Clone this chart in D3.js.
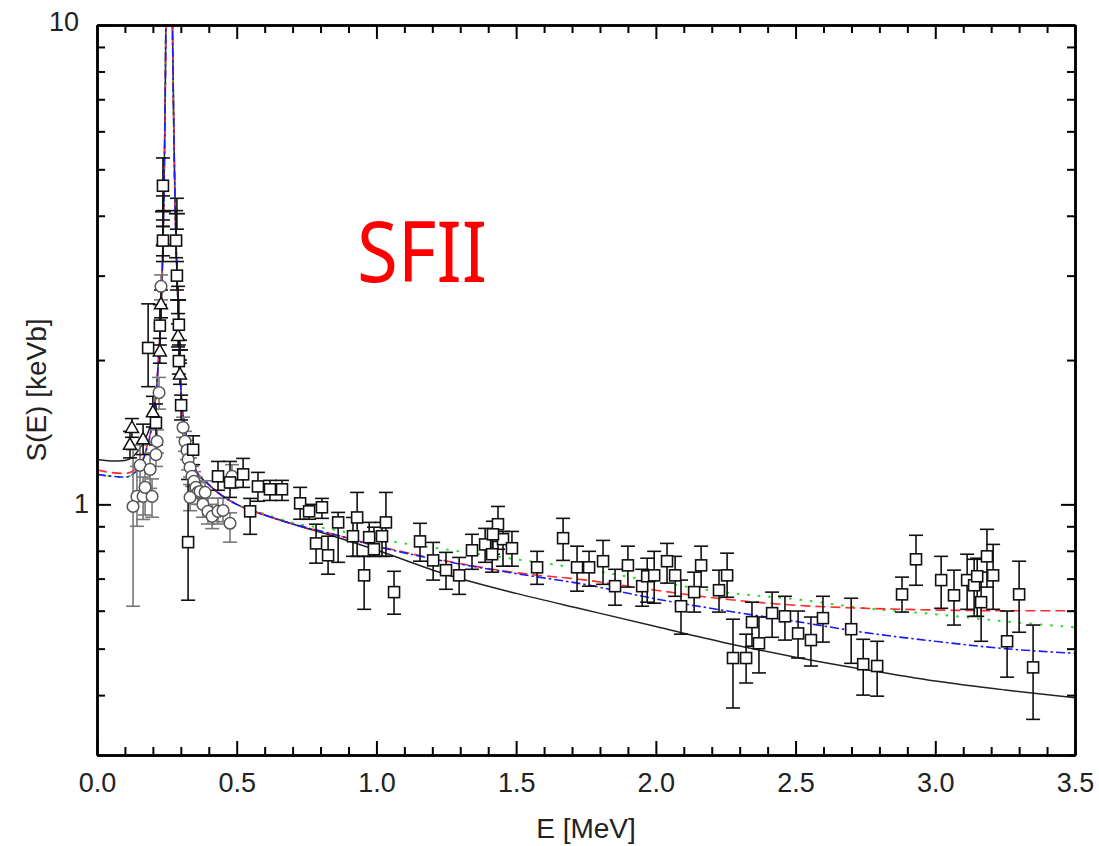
<!DOCTYPE html>
<html>
<head>
<meta charset="utf-8">
<script src="https://cdn.jsdelivr.net/npm/d3@7"></script>
<style>
  body { margin: 0; background: #fff; }
  text { font-family: "Liberation Sans", Arial, sans-serif; }
</style>
</head>
<body>
<svg id="chart" width="1099" height="846"></svg>
<script>
/** axis ticks **/
var xMajor = [0, 0.5, 1.0, 1.5, 2.0, 2.5, 3.0, 3.5];
var xMinor = [0.1, 0.2, 0.3, 0.4, 0.6, 0.7, 0.8, 0.9, 1.1, 1.2, 1.3, 1.4, 1.6, 1.7, 1.8, 1.9,
              2.1, 2.2, 2.3, 2.4, 2.6, 2.7, 2.8, 2.9, 3.1, 3.2, 3.3, 3.4];
var yMajor = [1, 10];
var yMinor = [0.3, 0.4, 0.5, 0.6, 0.7, 0.8, 0.9, 2, 3, 4, 5, 6, 7, 8, 9];

/** model curves: energy grid and S(E) for each model **/
var curveE = [0, 0.05, 0.1, 0.15, 0.18, 0.2, 0.21, 0.22, 0.23, 0.235, 0.24, 0.245, 0.25, 0.257,
              0.265, 0.27, 0.275, 0.28, 0.285, 0.29, 0.295, 0.3, 0.31, 0.32, 0.335, 0.35, 0.4,
              0.45, 0.5, 0.6, 0.7, 0.85, 1.0, 1.25, 1.5, 1.75, 2.0, 2.25, 2.5, 2.75, 3.0, 3.25, 3.5];
var curveBlack = [1.24, 1.232, 1.235, 1.30, 1.40, 1.53, 1.68, 2.0, 2.6, 3.3, 4.6, 8, 20, 60,
                  20, 10, 6, 4.1, 3.2, 2.6, 2.1, 1.75, 1.5, 1.38, 1.28, 1.19, 1.10,
                  1.04, 1.0, 0.95, 0.91, 0.857, 0.803, 0.714, 0.652, 0.602, 0.556, 0.514, 0.48, 0.452, 0.428, 0.41, 0.395];
var curveRed   = [1.18, 1.165, 1.16, 1.20, 1.33, 1.50, 1.67, 2.0, 2.6, 3.3, 4.6, 8, 20, 60,
                  20, 10, 6, 4.1, 3.2, 2.6, 2.1, 1.75, 1.5, 1.38, 1.28, 1.19, 1.10,
                  1.04, 1.0, 0.95, 0.91, 0.865, 0.82, 0.762, 0.72, 0.695, 0.662, 0.634, 0.616, 0.607, 0.602, 0.60, 0.60];
var curveGreen = [1.155, 1.145, 1.14, 1.19, 1.32, 1.50, 1.67, 2.0, 2.6, 3.3, 4.6, 8, 20, 60,
                  20, 10, 6, 4.1, 3.2, 2.6, 2.1, 1.75, 1.5, 1.38, 1.28, 1.19, 1.10,
                  1.04, 1.0, 0.955, 0.915, 0.885, 0.848, 0.805, 0.768, 0.732, 0.69, 0.655, 0.634, 0.607, 0.59, 0.57, 0.554];
var curveBlue  = [1.155, 1.145, 1.14, 1.19, 1.32, 1.50, 1.67, 2.0, 2.6, 3.3, 4.6, 8, 20, 60,
                  20, 10, 6, 4.1, 3.2, 2.6, 2.1, 1.75, 1.5, 1.38, 1.28, 1.19, 1.10,
                  1.04, 1.0, 0.95, 0.91, 0.865, 0.818, 0.76, 0.717, 0.68, 0.635, 0.60, 0.57, 0.54, 0.518, 0.50, 0.489];

/** data sets: [E, S, S low, S high] **/
var squareData = [
  [0.236, 4.62, 4.10, 5.28], [0.236, 3.55, 3.21, 3.92], [0.283, 3.55, 3.27, 4.10], [0.286, 3.00, 2.80, 3.21],
  [0.225, 2.36, 2.15, 2.61], [0.183, 2.12, 1.76, 2.62], [0.293, 2.37, 2.15, 2.67], [0.293, 1.99, 1.87, 2.10],
  [0.301, 1.61, 1.50, 1.69], [0.211, 1.48, 1.33, 1.62], [0.344, 1.30, 1.21, 1.39], [0.326, 0.834, 0.631, 1.127],
  [0.433, 1.144, 1.07, 1.229], [0.476, 1.111, 1.034, 1.229], [0.523, 1.155, 1.085, 1.247], [0.576, 1.090, 1.015, 1.166],
  [0.619, 1.075, 1.019, 1.122], [0.662, 1.075, 1.019, 1.122], [0.548, 0.967, 0.866, 1.029], [0.727, 1.005, 0.931, 1.085],
  [0.759, 0.967, 0.931, 1.0], [0.805, 0.986, 0.935, 1.029], [0.784, 0.829, 0.754, 0.909], [0.827, 0.783, 0.715, 0.858],
  [0.863, 0.917, 0.757, 0.962], [0.916, 0.858, 0.779, 0.939], [0.931, 0.939, 0.779, 1.059], [0.974, 0.854, 0.779, 0.917],
  [0.991, 0.806, 0.779, 0.896], [1.020, 0.858, 0.779, 0.917], [1.034, 0.917, 0.779, 1.059], [0.956, 0.711, 0.604, 0.779],
  [1.063, 0.656, 0.590, 0.725], [1.156, 0.837, 0.761, 0.913], [1.203, 0.764, 0.695, 0.833], [1.249, 0.729, 0.665, 0.794],
  [1.296, 0.711, 0.649, 0.775], [1.342, 0.802, 0.732, 0.866], [1.389, 0.825, 0.757, 0.891], [1.414, 0.787, 0.722, 0.837],
  [1.435, 0.909, 0.806, 0.99], [1.453, 0.846, 0.743, 0.878], [1.485, 0.810, 0.743, 0.878], [1.417, 0.866, 0.787, 0.922],
  [1.575, 0.739, 0.681, 0.798], [1.668, 0.850, 0.764, 0.935], [1.718, 0.739, 0.659, 0.818], [1.761, 0.739, 0.675, 0.798],
  [1.811, 0.761, 0.681, 0.841], [1.854, 0.675, 0.616, 0.732], [1.900, 0.746, 0.672, 0.818], [1.951, 0.675, 0.613, 0.732],
  [1.969, 0.708, 0.625, 0.772], [1.994, 0.711, 0.622, 0.798], [2.040, 0.761, 0.685, 0.829], [2.069, 0.711, 0.643, 0.779],
  [2.090, 0.613, 0.536, 0.695], [2.137, 0.656, 0.596, 0.722], [2.162, 0.746, 0.672, 0.818], [2.226, 0.662, 0.596, 0.729],
  [2.255, 0.711, 0.640, 0.791], [2.276, 0.478, 0.376, 0.576], [2.323, 0.478, 0.424, 0.536], [2.344, 0.568, 0.506, 0.625],
  [2.369, 0.513, 0.445, 0.582], [2.416, 0.593, 0.528, 0.656], [2.462, 0.584, 0.521, 0.643], [2.509, 0.538, 0.478, 0.599],
  [2.555, 0.521, 0.460, 0.582], [2.598, 0.579, 0.516, 0.643], [2.699, 0.549, 0.466, 0.637], [2.742, 0.464, 0.400, 0.523],
  [2.792, 0.460, 0.398, 0.518], [2.881, 0.649, 0.596, 0.705], [2.931, 0.768, 0.678, 0.862], [3.021, 0.695, 0.607, 0.779],
  [3.067, 0.646, 0.560, 0.729], [3.114, 0.695, 0.604, 0.787], [3.139, 0.678, 0.584, 0.768], [3.150, 0.708, 0.584, 0.772],
  [3.164, 0.625, 0.518, 0.722], [3.185, 0.779, 0.672, 0.887], [3.207, 0.711, 0.604, 0.825], [3.257, 0.518, 0.436, 0.599],
  [3.300, 0.649, 0.541, 0.761], [3.350, 0.457, 0.356, 0.560]
];
var circleData = [
  [0.229, 2.85, 2.67, 3.01], [0.222, 1.71, 1.58, 1.84], [0.215, 1.353, 1.28, 1.43], [0.211, 1.27, 1.20, 1.35],
  [0.308, 1.447, 1.38, 1.52], [0.315, 1.353, 1.29, 1.42], [0.322, 1.296, 1.24, 1.36], [0.326, 1.241, 1.18, 1.30],
  [0.333, 1.194, 1.14, 1.25], [0.340, 1.144, 1.09, 1.20], [0.347, 1.117, 1.06, 1.17], [0.354, 1.085, 1.03, 1.14],
  [0.361, 1.059, 1.0, 1.11], [0.143, 1.039, 0.90, 1.20], [0.129, 0.990, 0.613, 1.30], [0.165, 1.039, 0.93, 1.14],
  [0.197, 1.039, 0.94, 1.13], [0.333, 1.034, 0.97, 1.10], [0.369, 1.064, 1.0, 1.12], [0.387, 1.059, 0.99, 1.12],
  [0.379, 1.0, 0.94, 1.06], [0.397, 0.967, 0.91, 1.03], [0.412, 0.944, 0.89, 1.00], [0.433, 0.967, 0.91, 1.03],
  [0.451, 0.971, 0.92, 1.03], [0.476, 0.913, 0.834, 0.96], [0.483, 1.144, 1.08, 1.21], [0.154, 1.206, 1.05, 1.33],
  [0.190, 1.183, 1.08, 1.28], [0.172, 1.085, 0.95, 1.20]
];
var triangleData = [
  [0.125, 1.447, 1.38, 1.51], [0.118, 1.334, 1.25, 1.42], [0.225, 2.09, 1.97, 2.22], [0.290, 2.25, 2.13, 2.38],
  [0.297, 1.87, 1.78, 1.97], [0.236, 3.55, 3.30, 3.80], [0.229, 2.62, 2.45, 2.80], [0.200, 1.56, 1.45, 1.68],
  [0.165, 1.37, 1.27, 1.47]
];
var crossData = [
  [0.236, 4.08, 3.80, 4.40], [0.286, 4.04, 3.75, 4.35], [0.290, 2.67, 2.50, 2.85], [0.297, 2.10, 2.00, 2.20]
];

/** layout **/
var svg = d3.select("#chart"),
    plotLeft = 97, plotRight = 1075, plotTop = 25, plotBottom = 755,
    capW = 7;

var x = d3.scaleLinear().domain([0, 3.5]).range([plotLeft, plotRight]);
var y = d3.scaleLog().domain([0.3, 10]).range([plotBottom, plotTop]);

svg.append("defs").append("clipPath").attr("id", "plotClip")
  .append("rect").attr("x", plotLeft).attr("y", plotTop)
  .attr("width", plotRight - plotLeft).attr("height", plotBottom - plotTop);

var plot = svg.append("g").attr("clip-path", "url(#plotClip)");

/** model curves **/
var models = [
  {s: curveBlack, color: "#222", dash: null, w: 1.5},
  {s: curveGreen, color: "#1fd81f", dash: "2.5,8", w: 1.9},
  {s: curveRed,   color: "#ff2a2a", dash: "10,5", w: 1.6},
  {s: curveBlue,  color: "#1a1aff", dash: "9,3,2.5,3", w: 1.6}
];
var line = d3.line()
  .x(function(d) { return x(d[0]); })
  .y(function(d) { return y(d[1]); })
  .curve(d3.curveMonotoneX);

models.forEach(function(m) {
  var pts = curveE.map(function(e, i) { return [e, m.s[i]]; });
  plot.append("path")
    .datum(pts)
    .attr("d", line)
    .attr("fill", "none")
    .attr("stroke", m.color)
    .attr("stroke-width", m.w)
    .attr("stroke-dasharray", m.dash);
});

/** error bars with caps **/
function errorBars(data, color, cls) {
  var g = plot.append("g").attr("class", cls)
    .attr("stroke", color).attr("stroke-width", 1.6).attr("fill", "none");
  g.selectAll(".v").data(data).enter().append("line")
    .attr("x1", function(d) { return x(d[0]); })
    .attr("x2", function(d) { return x(d[0]); })
    .attr("y1", function(d) { return y(d[2]); })
    .attr("y2", function(d) { return y(d[3]); });
  [2, 3].forEach(function(k) {
    g.selectAll(".c" + k).data(data).enter().append("line")
      .attr("x1", function(d) { return x(d[0]) - capW; })
      .attr("x2", function(d) { return x(d[0]) + capW; })
      .attr("y1", function(d) { return y(d[k]); })
      .attr("y2", function(d) { return y(d[k]); });
  });
}

errorBars(circleData, "#777", "circErr");
errorBars(triangleData, "#111", "triErr");
errorBars(crossData, "#111", "crossErr");
errorBars(squareData, "#111", "sqErr");

// circles (grey)
plot.append("g").selectAll("circle").data(circleData).enter().append("circle")
  .attr("cx", function(d) { return x(d[0]); })
  .attr("cy", function(d) { return y(d[1]); })
  .attr("r", 5.8)
  .attr("fill", "#fff").attr("stroke", "#555").attr("stroke-width", 1.5);

// triangles
plot.append("g").selectAll("path").data(triangleData).enter().append("path")
  .attr("d", function(d) {
    var cx = x(d[0]), cy = y(d[1]);
    return "M" + cx + "," + (cy - 6.5) + "L" + (cx + 6.5) + "," + (cy + 5) + "L" + (cx - 6.5) + "," + (cy + 5) + "Z";
  })
  .attr("fill", "#fff").attr("stroke", "#111").attr("stroke-width", 1.5);

// crosses
plot.append("g").selectAll("line").data(crossData).enter().append("line")
  .attr("x1", function(d) { return x(d[0]) - 8; })
  .attr("x2", function(d) { return x(d[0]) + 8; })
  .attr("y1", function(d) { return y(d[1]); })
  .attr("y2", function(d) { return y(d[1]); })
  .attr("stroke", "#111").attr("stroke-width", 1.8);

// squares
plot.append("g").selectAll("rect").data(squareData).enter().append("rect")
  .attr("x", function(d) { return x(d[0]) - 5.5; })
  .attr("y", function(d) { return y(d[1]) - 5.5; })
  .attr("width", 11).attr("height", 11)
  .attr("fill", "#fff").attr("stroke", "#111").attr("stroke-width", 1.6);

/** axes, ticks pointing inward **/
function styleAxis(g) {
  g.select(".domain").attr("stroke", "#000").attr("stroke-width", 2.5);
  g.selectAll(".tick line").attr("stroke", "#000").attr("stroke-width", 2);
  g.selectAll("text").attr("fill", "#222").style("font-size", "27px")
    .style("font-family", "'Liberation Sans', Arial, sans-serif");
}

svg.append("g").attr("transform", "translate(0," + plotBottom + ")")
  .call(d3.axisBottom(x).tickValues(xMajor).tickSize(-14).tickSizeOuter(0).tickPadding(18)
    .tickFormat(d3.format(".1f")))
  .call(styleAxis);
svg.append("g").attr("transform", "translate(0," + plotBottom + ")")
  .call(d3.axisBottom(x).tickValues(xMinor).tickSize(-8).tickSizeOuter(0).tickFormat(""))
  .call(styleAxis);
svg.append("g").attr("transform", "translate(0," + plotTop + ")")
  .call(d3.axisTop(x).tickValues(xMajor).tickSize(-14).tickSizeOuter(0).tickFormat(""))
  .call(styleAxis);
svg.append("g").attr("transform", "translate(0," + plotTop + ")")
  .call(d3.axisTop(x).tickValues(xMinor).tickSize(-8).tickSizeOuter(0).tickFormat(""))
  .call(styleAxis);

var yAxisG = svg.append("g").attr("transform", "translate(" + plotLeft + ",0)")
  .call(d3.axisLeft(y).tickValues(yMajor).tickSize(-14).tickSizeOuter(0).tickPadding(8)
    .tickFormat(d3.format("d")))
  .call(styleAxis);
yAxisG.selectAll(".tick text").attr("dx", function(d) { return d === 10 ? -10 : 0; })
  .attr("dy", function(d) { return d === 10 ? "0.2em" : "0.32em"; });
svg.append("g").attr("transform", "translate(" + plotLeft + ",0)")
  .call(d3.axisLeft(y).tickValues(yMinor).tickSize(-8).tickSizeOuter(0).tickFormat(""))
  .call(styleAxis);
svg.append("g").attr("transform", "translate(" + plotRight + ",0)")
  .call(d3.axisRight(y).tickValues(yMajor).tickSize(-14).tickSizeOuter(0).tickFormat(""))
  .call(styleAxis);
svg.append("g").attr("transform", "translate(" + plotRight + ",0)")
  .call(d3.axisRight(y).tickValues(yMinor).tickSize(-8).tickSizeOuter(0).tickFormat(""))
  .call(styleAxis);

/** titles **/
svg.append("text")
  .attr("x", (plotLeft + plotRight) / 2).attr("y", 838)
  .attr("text-anchor", "middle")
  .attr("fill", "#222").style("font-size", "28px")
  .text("E [MeV]");

svg.append("text")
  .attr("transform", "translate(46," + (plotTop + plotBottom) / 2 + ") rotate(-90)")
  .attr("text-anchor", "middle")
  .attr("fill", "#222").style("font-size", "28px")
  .text("S(E) [keVb]");

svg.append("text")
  .attr("x", 357).attr("y", 282)
  .attr("textLength", 130).attr("lengthAdjust", "spacingAndGlyphs")
  .attr("fill", "#ff0000")
  .style("font-family", "'Noto Sans', 'Open Sans', sans-serif")
  .style("font-size", "84px")
  .text("SFII");
</script>
</body>
</html>
